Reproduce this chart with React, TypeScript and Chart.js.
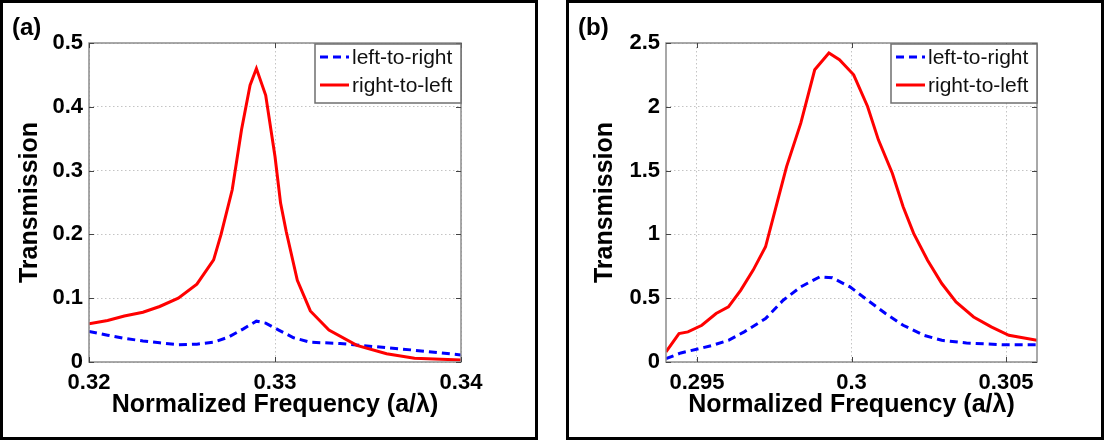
import { useEffect, useRef } from 'react';
import { Chart, registerables } from 'chart.js';

Chart.register(...registerables);

const FONT = '"Liberation Sans", Arial, Helvetica, sans-serif';

// ---- shared text ----
const seriesLabels = ['left-to-right', 'right-to-left'];
const xTitle = 'Normalized Frequency (a/\u03bb)';
const yTitle = 'Transmission';
const panelLabels = ['(a)', '(b)'];

// ---- panel (a) ----
const freqA_LR = [0.32, 0.321, 0.3219, 0.3229, 0.3238, 0.3248, 0.3258, 0.3267, 0.3275, 0.3283, 0.329, 0.3295, 0.3302, 0.331, 0.3319, 0.3335, 0.3354, 0.3373, 0.34];
const transA_LR = [0.048, 0.042, 0.037, 0.033, 0.03, 0.027, 0.028, 0.031, 0.039, 0.052, 0.064, 0.061, 0.05, 0.038, 0.031, 0.029, 0.024, 0.019, 0.011];
const freqA_RL = [0.32, 0.321, 0.3219, 0.3229, 0.3238, 0.3248, 0.3258, 0.3267, 0.3271, 0.3277, 0.3282, 0.32866, 0.329, 0.3295, 0.33, 0.3303, 0.3306, 0.3312, 0.3319, 0.3329, 0.3344, 0.336, 0.3375, 0.34];
const transA_RL = [0.06, 0.065, 0.072, 0.078, 0.087, 0.1, 0.122, 0.16, 0.2, 0.27, 0.364, 0.434, 0.46, 0.418, 0.322, 0.249, 0.205, 0.128, 0.08, 0.05, 0.026, 0.013, 0.006, 0.003];
const xTicksA = [0.32, 0.33, 0.34];
const xTickLabelsA = ['0.32', '0.33', '0.34'];
const yTicksA = [0, 0.1, 0.2, 0.3, 0.4, 0.5];
const yTickLabelsA = ['0', '0.1', '0.2', '0.3', '0.4', '0.5'];

// ---- panel (b) ----
const freqB_LR = [0.294, 0.29448, 0.29499, 0.29551, 0.29602, 0.29653, 0.29722, 0.29779, 0.29836, 0.29898, 0.29938, 0.29995, 0.30052, 0.3011, 0.30167, 0.30235, 0.30292, 0.30372, 0.30486, 0.306];
const transB_LR = [0.026, 0.071, 0.1, 0.131, 0.17, 0.236, 0.34, 0.484, 0.589, 0.668, 0.66, 0.589, 0.484, 0.38, 0.288, 0.209, 0.17, 0.149, 0.136, 0.136];
const freqB_RL = [0.294, 0.29442, 0.29471, 0.29516, 0.29562, 0.29602, 0.29642, 0.29682, 0.29722, 0.29756, 0.2979, 0.29836, 0.29881, 0.29927, 0.29961, 0.30007, 0.30052, 0.30087, 0.30132, 0.30167, 0.30201, 0.30246, 0.30292, 0.30338, 0.30395, 0.30452, 0.30509, 0.306];
const transB_RL = [0.079, 0.223, 0.236, 0.288, 0.38, 0.432, 0.563, 0.72, 0.903, 1.217, 1.531, 1.872, 2.29, 2.421, 2.369, 2.251, 2.003, 1.741, 1.479, 1.217, 1.008, 0.798, 0.615, 0.471, 0.353, 0.275, 0.209, 0.17];
const xTicksB = [0.295, 0.3, 0.305];
const xTickLabelsB = ['0.295', '0.3', '0.305'];
const yTicksB = [0, 0.5, 1, 1.5, 2, 2.5];
const yTickLabelsB = ['0', '0.5', '1', '1.5', '2', '2.5'];

const BLUE = 'rgb(0,0,255)';
const RED = 'rgb(255,0,0)';

type PanelSpec = {
  label: string;
  left: number;
  width: number;
  frameLeft: number;
  axisWidth: number;
  padRight: number;
  yTitlePad: number;
  xMin: number;
  xMax: number;
  xTicks: number[];
  xTickLabels: string[];
  yTicks: number[];
  yTickLabels: string[];
  lr: { f: number[]; t: number[] };
  rl: { f: number[]; t: number[] };
};

const panels: PanelSpec[] = [
  {
    label: panelLabels[0], left: 0, width: 541, frameLeft: 0,
    axisWidth: 89, padRight: 80, yTitlePad: 15,
    xMin: 0.32, xMax: 0.34, xTicks: xTicksA, xTickLabels: xTickLabelsA,
    yTicks: yTicksA, yTickLabels: yTickLabelsA,
    lr: { f: freqA_LR, t: transA_LR }, rl: { f: freqA_RL, t: transA_RL },
  },
  {
    label: panelLabels[1], left: 541, width: 572, frameLeft: 566,
    axisWidth: 125, padRight: 76, yTitlePad: 49,
    xMin: 0.294, xMax: 0.306, xTicks: xTicksB, xTickLabels: xTickLabelsB,
    yTicks: yTicksB, yTickLabels: yTickLabelsB,
    lr: { f: freqB_LR, t: transB_LR }, rl: { f: freqB_RL, t: transB_RL },
  },
];

// Axes box with inward tick marks, plus the inset legend in the upper right.
const boxAndLegend = {
  id: 'boxAndLegend',
  afterDraw(chart: any) {
    const { ctx, chartArea: a, scales } = chart;
    ctx.save();
    ctx.setLineDash([]);
    ctx.strokeStyle = '#8c8c8c';
    ctx.lineWidth = 1.5;
    ctx.strokeRect(a.left, a.top, a.right - a.left, a.bottom - a.top);

    ctx.strokeStyle = '#444';
    ctx.lineWidth = 1;
    const tl = 5;
    scales.x.ticks.forEach((t: any) => {
      const px = Math.round(scales.x.getPixelForValue(t.value)) + 0.5;
      ctx.beginPath();
      ctx.moveTo(px, a.bottom); ctx.lineTo(px, a.bottom - tl);
      ctx.moveTo(px, a.top); ctx.lineTo(px, a.top + tl);
      ctx.stroke();
    });
    scales.y.ticks.forEach((t: any) => {
      const py = Math.round(scales.y.getPixelForValue(t.value)) + 0.5;
      ctx.beginPath();
      ctx.moveTo(a.left, py); ctx.lineTo(a.left + tl, py);
      ctx.moveTo(a.right, py); ctx.lineTo(a.right - tl, py);
      ctx.stroke();
    });

    // legend
    const w = 146, h = 59;
    const x0 = a.right - w, y0 = a.top + 1;
    ctx.fillStyle = '#fff';
    ctx.fillRect(x0, y0, w, h);
    ctx.strokeStyle = '#6f6f6f';
    ctx.lineWidth = 1.5;
    ctx.strokeRect(x0, y0, w, h);
    ctx.font = `21px ${FONT}`;
    ctx.textBaseline = 'middle';
    ctx.textAlign = 'left';
    chart.data.datasets.forEach((ds: any, i: number) => {
      const y = y0 + 13 + i * 28;
      ctx.beginPath();
      ctx.setLineDash(ds.borderDash || []);
      ctx.strokeStyle = ds.borderColor;
      ctx.lineWidth = ds.borderWidth;
      ctx.moveTo(x0 + 5, y);
      ctx.lineTo(x0 + 34, y);
      ctx.stroke();
      ctx.setLineDash([]);
      ctx.fillStyle = '#111';
      ctx.fillText(ds.label, x0 + 37, y + 1);
    });
    ctx.restore();
  },
};

function Panel({ spec }: { spec: PanelSpec }) {
  const ref = useRef<HTMLCanvasElement | null>(null);

  useEffect(() => {
    if (!ref.current) return;
    const toPts = (f: number[], t: number[]) => f.map((x, i) => ({ x, y: t[i] }));
    const chart = new Chart(ref.current, {
      type: 'line',
      data: {
        datasets: [
          {
            label: seriesLabels[0],
            data: toPts(spec.lr.f, spec.lr.t),
            borderColor: BLUE,
            borderWidth: 3,
            borderDash: [8, 5],
            pointRadius: 0,
            tension: 0,
            order: 1,
          },
          {
            label: seriesLabels[1],
            data: toPts(spec.rl.f, spec.rl.t),
            borderColor: RED,
            borderWidth: 3,
            pointRadius: 0,
            tension: 0,
            order: 0,
          },
        ],
      },
      options: {
        animation: false,
        responsive: false,
        devicePixelRatio: 1,
        layout: { padding: { left: 0, top: 43, right: spec.padRight, bottom: 0 } },
        plugins: { legend: { display: false }, tooltip: { enabled: false } },
        scales: {
          x: {
            type: 'linear',
            min: spec.xMin,
            max: spec.xMax,
            afterBuildTicks: (s: any) => { s.ticks = spec.xTicks.map((v) => ({ value: v })); },
            afterFit: (s: any) => { s.height = 78; },
            grid: { color: '#c4c4c4', lineWidth: 1, drawTicks: false },
            border: { display: false, dash: [1.5, 2.5] },
            ticks: {
              autoSkip: false,
              maxRotation: 0,
              padding: 8,
              color: '#000',
              font: { family: FONT, size: 22, weight: 'bold', lineHeight: 1.2 },
              callback: (_v: any, i: number) => spec.xTickLabels[i],
            },
            title: {
              display: true,
              text: xTitle,
              color: '#000',
              font: { family: FONT, size: 25, weight: 'bold', lineHeight: 1.2 },
              padding: { top: 0, bottom: 20 },
            },
          },
          y: {
            type: 'linear',
            min: spec.yTicks[0],
            max: spec.yTicks[spec.yTicks.length - 1],
            afterBuildTicks: (s: any) => { s.ticks = spec.yTicks.map((v) => ({ value: v })); },
            afterFit: (s: any) => { s.width = spec.axisWidth; },
            grid: { color: '#c4c4c4', lineWidth: 1, drawTicks: false },
            border: { display: false, dash: [1.5, 2.5] },
            ticks: {
              autoSkip: false,
              padding: 6,
              color: '#000',
              font: { family: FONT, size: 22, weight: 'bold', lineHeight: 1.2 },
              callback: (_v: any, i: number) => spec.yTickLabels[i],
            },
            title: {
              display: true,
              text: yTitle,
              color: '#000',
              font: { family: FONT, size: 25, weight: 'bold', lineHeight: 1.2 },
              padding: { top: spec.yTitlePad, bottom: 0 },
            },
          },
        },
      } as any,
      plugins: [boxAndLegend],
    });
    return () => chart.destroy();
  }, [spec]);

  return (
    <>
      <canvas
        ref={ref}
        width={spec.width}
        height={440}
        style={{ position: 'absolute', left: spec.left, top: 0, width: spec.width, height: 440, display: 'block' }}
      />
      <div
        style={{
          position: 'absolute', left: spec.frameLeft, top: 0, width: 538, height: 440,
          boxSizing: 'border-box', border: '3px solid #000', pointerEvents: 'none',
        }}
      />
      <div
        style={{
          position: 'absolute', left: spec.frameLeft + 12, top: 14, font: `bold 24px ${FONT}`,
          lineHeight: '26px', color: '#000', whiteSpace: 'nowrap',
        }}
      >
        {spec.label}
      </div>
    </>
  );
}

export default function App() {
  return (
    <div style={{ position: 'absolute', left: 0, top: 0, width: 1113, height: 440, background: '#fff', overflow: 'hidden' }}>
      {panels.map((p) => (
        <Panel key={p.label} spec={p} />
      ))}
    </div>
  );
}
